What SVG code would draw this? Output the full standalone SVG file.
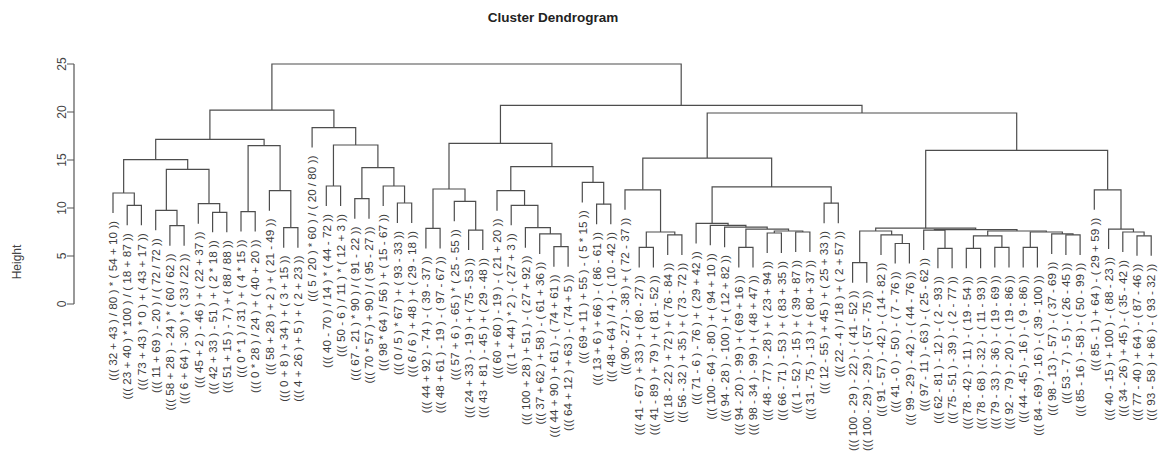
<svg xmlns="http://www.w3.org/2000/svg" width="1169" height="475" viewBox="0 0 1169 475">
<style>
  .bg { fill: #ffffff; }
  .title { font-family: "Liberation Sans", Arial, sans-serif; font-size: 13.5px; font-weight: bold; fill: #222; text-anchor: middle; }
  .axis { stroke: #555; stroke-width: 1.2; fill: none; }
  .tick { font-family: "Liberation Sans", Arial, sans-serif; font-size: 12px; fill: #444; text-anchor: middle; }
  .ylab { font-family: "Liberation Sans", Arial, sans-serif; font-size: 12px; fill: #444; text-anchor: middle; }
  .edge { stroke: #4d4d4d; stroke-width: 1.2; fill: none; }
  .leaf text { font-family: "Liberation Sans", Arial, sans-serif; font-size: 11.7px; fill: #3c3c3c; text-anchor: end; }
</style>
<rect class="bg" x="0" y="0" width="1169" height="475"/>
<text class="title" x="553" y="22">Cluster Dendrogram</text>

<!-- y axis (Height) -->
<g id="axis">
  <path class="axis" d="M74 64 V304 M67 64 H74 M67 112 H74 M67 160 H74 M67 208 H74 M67 256 H74 M67 304 H74"/>
  <text class="tick" transform="translate(66,64) rotate(-90)">25</text>
  <text class="tick" transform="translate(66,112) rotate(-90)">20</text>
  <text class="tick" transform="translate(66,160) rotate(-90)">15</text>
  <text class="tick" transform="translate(66,208) rotate(-90)">10</text>
  <text class="tick" transform="translate(66,256) rotate(-90)">5</text>
  <text class="tick" transform="translate(66,304) rotate(-90)">0</text>
  <text class="ylab" transform="translate(21,262) rotate(-90)">Height</text>
</g>

<!-- merge brackets -->
<g id="connectors" class="edge">
  <path d="M127.2 225.3 V205.3 H141.4 V225.3"/>
  <path d="M113 213 V193 H134.3 V205.3"/>
  <path d="M169.9 245.7 V225.7 H184.1 V245.7"/>
  <path d="M155.7 230.3 V210.3 H177 V225.7"/>
  <path d="M212.6 232.3 V212.3 H226.8 V232.3"/>
  <path d="M198.3 223.7 V203.7 H219.7 V212.3"/>
  <path d="M166.35 210.3 V169.3 H209 V203.7"/>
  <path d="M123.65 193 V159.7 H187.7 V169.3"/>
  <path d="M241 231.6 V211.6 H255.2 V231.6"/>
  <path d="M283.7 247.7 V227.7 H297.9 V247.7"/>
  <path d="M269.4 210.7 V190.7 H290.8 V227.7"/>
  <path d="M248.1 211.6 V145.7 H280.1 V190.7"/>
  <path d="M155.7 159.7 V139.4 H264.1 V145.7"/>
  <path d="M326.3 206 V186 H340.6 V206"/>
  <path d="M354.8 218.7 V198.7 H369 V218.7"/>
  <path d="M397.4 223 V203 H411.7 V223"/>
  <path d="M383.2 206 V186 H404.55 V203"/>
  <path d="M361.9 198.7 V167.7 H393.9 V186"/>
  <path d="M333.45 186 V145 H377.9 V167.7"/>
  <path d="M312.1 147.6 V127.6 H355.7 V145"/>
  <path d="M209.9 139.4 V110.1 H333.9 V127.6"/>

  <path d="M425.9 248.4 V228.4 H440.1 V248.4"/>
  <path d="M468.6 250.1 V230.1 H482.8 V250.1"/>
  <path d="M454.3 221.3 V201.3 H475.7 V230.1"/>
  <path d="M433 228.4 V189 H465 V201.3"/>
  <path d="M553.9 266.7 V246.7 H568.1 V266.7"/>
  <path d="M539.7 253.9 V233.9 H561 V246.7"/>
  <path d="M525.4 247.7 V227.7 H550.35 V233.9"/>
  <path d="M511.2 225.3 V205.3 H537.9 V227.7"/>
  <path d="M497 210.7 V190.7 H524.55 V205.3"/>
  <path d="M596.6 224.2 V204.2 H610.8 V224.2"/>
  <path d="M582.3 202.4 V182.4 H603.7 V204.2"/>
  <path d="M510.8 190.7 V166.7 H593 V182.4"/>
  <path d="M449 189 V143.3 H551.9 V166.7"/>

  <path d="M639.2 267.4 V247.4 H653.4 V267.4"/>
  <path d="M667.7 254.9 V234.9 H681.9 V254.9"/>
  <path d="M646.3 247.4 V232 H674.8 V234.9"/>
  <path d="M625 209.8 V189.8 H660.55 V232"/>
  <path d="M738.8 267.4 V247.4 H753 V267.4"/>
  <path d="M767.2 253 V233 H781.4 V253"/>
  <path d="M795.7 252 V232 H809.9 V252"/>
  <path d="M774.3 233 V231 H802.8 V232"/>
  <path d="M745.9 247.4 V229.1 H788.55 V231"/>
  <path d="M724.6 247.2 V227.2 H767.2 V229.1"/>
  <path d="M710.3 245.3 V225.3 H745.9 V227.2"/>
  <path d="M696.1 243.4 V223.4 H728.1 V225.3"/>
  <path d="M824.1 223.2 V203.2 H838.3 V223.2"/>
  <path d="M712.1 223.4 V186.9 H831.2 V203.2"/>
  <path d="M642.8 189.8 V158.1 H771.65 V186.9"/>

  <path d="M852.6 282.7 V262.7 H866.8 V282.7"/>
  <path d="M895.2 263.5 V243.5 H909.4 V263.5"/>
  <path d="M881 254.9 V234.9 H902.3 V243.5"/>
  <path d="M859.7 262.7 V231 H891.65 V234.9"/>
  <path d="M937.9 268.3 V248.3 H952.1 V268.3"/>
  <path d="M923.7 250.1 V230.1 H945 V248.3"/>
  <path d="M966.3 268.3 V248.3 H980.6 V268.3"/>
  <path d="M994.8 267.4 V247.4 H1009 V267.4"/>
  <path d="M973.45 248.3 V235.8 H1001.9 V247.4"/>
  <path d="M1023.2 267.4 V247.4 H1037.4 V267.4"/>
  <path d="M1065.9 254.9 V234.9 H1080.1 V254.9"/>
  <path d="M1051.7 253.9 V233.9 H1073 V234.9"/>
  <path d="M1030.3 247.4 V232 H1062.35 V233.9"/>
  <path d="M987.7 235.8 V231 H1046.3 V232"/>
  <path d="M934.35 230.1 V229.6 H1017 V231"/>
  <path d="M875.7 231 V228.2 H975.7 V229.6"/>
  <path d="M1137 255.8 V235.8 H1151.2 V255.8"/>
  <path d="M1122.8 252 V232 H1144.1 V235.8"/>
  <path d="M1108.6 249.1 V229.1 H1133.45 V232"/>
  <path d="M1094.3 209.8 V189.8 H1121 V229.1"/>
  <path d="M925.7 228.2 V150.4 H1107.65 V189.8"/>
  <path d="M707.2 158.1 V113 H1016.7 V150.4"/>
  <path d="M500.45 143.3 V105.3 H862 V113"/>
  <path d="M271.9 110.1 V64 H681.2 V105.3"/>
</g>

<!-- leaves -->
<g id="leaf-01" class="leaf"><text transform="translate(117.2,221) rotate(-90)">((( 32 + 43 ) / 80 ) * ( 54 + 10 ))</text></g>
<g id="leaf-02" class="leaf"><text transform="translate(131.4,233.3) rotate(-90)">((( 23 + 40 ) * 100 ) / ( 18 + 87 ))</text></g>
<g id="leaf-03" class="leaf"><text transform="translate(145.6,233.3) rotate(-90)">((( 73 + 43 ) * 0 ) + ( 43 + 17 ))</text></g>
<g id="leaf-04" class="leaf"><text transform="translate(159.9,238.3) rotate(-90)">((( 11 + 69 ) - 20 ) / ( 72 / 72 ))</text></g>
<g id="leaf-05" class="leaf"><text transform="translate(174.1,253.7) rotate(-90)">((( 58 + 28 ) - 24 ) * ( 60 / 62 ))</text></g>
<g id="leaf-06" class="leaf"><text transform="translate(188.3,253.7) rotate(-90)">((( 6 + 64 ) - 30 ) * ( 33 / 22 ))</text></g>
<g id="leaf-07" class="leaf"><text transform="translate(202.5,231.7) rotate(-90)">((( 45 + 2 ) - 46 ) + ( 22 + 37 ))</text></g>
<g id="leaf-08" class="leaf"><text transform="translate(216.8,240.3) rotate(-90)">((( 42 + 33 ) - 51 ) + ( 2 * 18 ))</text></g>
<g id="leaf-09" class="leaf"><text transform="translate(231,240.3) rotate(-90)">((( 51 + 15 ) - 7 ) + ( 88 / 88 ))</text></g>
<g id="leaf-10" class="leaf"><text transform="translate(245.2,239.6) rotate(-90)">((( 0 * 1 ) / 31 ) + ( 4 * 15 ))</text></g>
<g id="leaf-11" class="leaf"><text transform="translate(259.4,239.6) rotate(-90)">((( 0 * 28 ) / 24 ) + ( 40 + 20 ))</text></g>
<g id="leaf-12" class="leaf"><text transform="translate(273.6,218.7) rotate(-90)">((( 58 + 28 ) + 2 ) + ( 21 - 49 ))</text></g>
<g id="leaf-13" class="leaf"><text transform="translate(287.9,255.7) rotate(-90)">((( 0 + 8 ) + 34 ) + ( 3 + 15 ))</text></g>
<g id="leaf-14" class="leaf"><text transform="translate(302.1,255.7) rotate(-90)">((( 4 + 26 ) + 5 ) + ( 2 + 23 ))</text></g>
<g id="leaf-15" class="leaf"><text transform="translate(316.3,155.6) rotate(-90)">((( 5 / 20 ) * 60 ) / ( 20 / 80 ))</text></g>
<g id="leaf-16" class="leaf"><text transform="translate(330.5,214) rotate(-90)">((( 40 - 70 ) / 14 ) * ( 44 - 72 ))</text></g>
<g id="leaf-17" class="leaf"><text transform="translate(344.8,214) rotate(-90)">((( 50 - 6 ) / 11 ) * ( 12 + 3 ))</text></g>
<g id="leaf-18" class="leaf"><text transform="translate(359,226.7) rotate(-90)">((( 67 - 21 ) * 90 ) / ( 91 - 22 ))</text></g>
<g id="leaf-19" class="leaf"><text transform="translate(373.2,226.7) rotate(-90)">((( 70 * 57 ) + 90 ) / ( 95 - 27 ))</text></g>
<g id="leaf-20" class="leaf"><text transform="translate(387.4,214) rotate(-90)">((( 98 * 64 ) / 56 ) + ( 15 - 67 ))</text></g>
<g id="leaf-21" class="leaf"><text transform="translate(401.6,231) rotate(-90)">((( 0 / 5 ) * 67 ) + ( 93 - 33 ))</text></g>
<g id="leaf-22" class="leaf"><text transform="translate(415.9,231) rotate(-90)">((( 6 / 6 ) + 48 ) + ( 29 - 18 ))</text></g>
<g id="leaf-23" class="leaf"><text transform="translate(430.1,256.4) rotate(-90)">((( 44 + 92 ) - 74 ) - ( 39 - 37 ))</text></g>
<g id="leaf-24" class="leaf"><text transform="translate(444.3,256.4) rotate(-90)">((( 48 + 61 ) - 19 ) - ( 97 - 67 ))</text></g>
<g id="leaf-25" class="leaf"><text transform="translate(458.5,229.3) rotate(-90)">((( 57 + 6 ) - 65 ) * ( 25 - 55 ))</text></g>
<g id="leaf-26" class="leaf"><text transform="translate(472.8,258.1) rotate(-90)">((( 24 + 33 ) - 19 ) + ( 75 - 53 ))</text></g>
<g id="leaf-27" class="leaf"><text transform="translate(487,258.1) rotate(-90)">((( 43 + 81 ) - 45 ) + ( 29 - 48 ))</text></g>
<g id="leaf-28" class="leaf"><text transform="translate(501.2,218.7) rotate(-90)">((( 60 + 60 ) - 19 ) - ( 21 + 20 ))</text></g>
<g id="leaf-29" class="leaf"><text transform="translate(515.4,233.3) rotate(-90)">((( 1 + 44 ) * 2 ) - ( 27 + 3 ))</text></g>
<g id="leaf-30" class="leaf"><text transform="translate(529.6,255.7) rotate(-90)">((( 100 + 28 ) + 51 ) - ( 27 + 92 ))</text></g>
<g id="leaf-31" class="leaf"><text transform="translate(543.9,261.9) rotate(-90)">((( 37 + 62 ) + 58 ) - ( 61 + 36 ))</text></g>
<g id="leaf-32" class="leaf"><text transform="translate(558.1,274.7) rotate(-90)">((( 44 + 90 ) + 61 ) - ( 74 + 61 ))</text></g>
<g id="leaf-33" class="leaf"><text transform="translate(572.3,274.7) rotate(-90)">((( 64 + 12 ) + 63 ) - ( 74 + 5 ))</text></g>
<g id="leaf-34" class="leaf"><text transform="translate(586.5,210.4) rotate(-90)">((( 69 + 11 ) + 55 ) - ( 5 * 15 ))</text></g>
<g id="leaf-35" class="leaf"><text transform="translate(600.8,232.2) rotate(-90)">((( 13 + 6 ) + 66 ) - ( 86 - 61 ))</text></g>
<g id="leaf-36" class="leaf"><text transform="translate(615,232.2) rotate(-90)">((( 48 + 64 ) / 4 ) - ( 10 - 42 ))</text></g>
<g id="leaf-37" class="leaf"><text transform="translate(629.2,217.8) rotate(-90)">((( 90 - 27 ) - 38 ) + ( 72 - 37 ))</text></g>
<g id="leaf-38" class="leaf"><text transform="translate(643.4,275.4) rotate(-90)">((( 41 - 67 ) + 33 ) + ( 80 - 27 ))</text></g>
<g id="leaf-39" class="leaf"><text transform="translate(657.6,275.4) rotate(-90)">((( 41 - 89 ) + 79 ) + ( 81 - 52 ))</text></g>
<g id="leaf-40" class="leaf"><text transform="translate(671.9,262.9) rotate(-90)">((( 18 - 22 ) + 72 ) + ( 76 - 84 ))</text></g>
<g id="leaf-41" class="leaf"><text transform="translate(686.1,262.9) rotate(-90)">((( 56 - 32 ) + 35 ) + ( 73 - 72 ))</text></g>
<g id="leaf-42" class="leaf"><text transform="translate(700.3,251.4) rotate(-90)">((( 71 - 6 ) - 76 ) + ( 29 + 42 ))</text></g>
<g id="leaf-43" class="leaf"><text transform="translate(714.5,253.3) rotate(-90)">((( 100 - 64 ) - 80 ) + ( 94 + 10 ))</text></g>
<g id="leaf-44" class="leaf"><text transform="translate(728.8,255.2) rotate(-90)">((( 94 - 28 ) - 100 ) + ( 12 + 82 ))</text></g>
<g id="leaf-45" class="leaf"><text transform="translate(743,275.4) rotate(-90)">((( 94 - 20 ) - 99 ) + ( 69 + 16 ))</text></g>
<g id="leaf-46" class="leaf"><text transform="translate(757.2,275.4) rotate(-90)">((( 98 - 34 ) - 99 ) + ( 48 + 47 ))</text></g>
<g id="leaf-47" class="leaf"><text transform="translate(771.4,261) rotate(-90)">((( 48 - 77 ) - 28 ) + ( 23 + 94 ))</text></g>
<g id="leaf-48" class="leaf"><text transform="translate(785.6,261) rotate(-90)">((( 66 - 71 ) - 53 ) + ( 83 + 35 ))</text></g>
<g id="leaf-49" class="leaf"><text transform="translate(799.9,260) rotate(-90)">((( 1 - 52 ) - 15 ) + ( 39 + 87 ))</text></g>
<g id="leaf-50" class="leaf"><text transform="translate(814.1,260) rotate(-90)">((( 31 - 75 ) - 13 ) + ( 80 + 37 ))</text></g>
<g id="leaf-51" class="leaf"><text transform="translate(828.3,231.2) rotate(-90)">((( 12 - 55 ) + 45 ) + ( 25 + 33 ))</text></g>
<g id="leaf-52" class="leaf"><text transform="translate(842.5,231.2) rotate(-90)">((( 22 - 4 ) / 18 ) + ( 2 + 57 ))</text></g>
<g id="leaf-53" class="leaf"><text transform="translate(856.8,290.7) rotate(-90)">((( 100 - 29 ) - 22 ) - ( 41 - 52 ))</text></g>
<g id="leaf-54" class="leaf"><text transform="translate(871,290.7) rotate(-90)">((( 100 - 29 ) - 29 ) - ( 57 - 75 ))</text></g>
<g id="leaf-55" class="leaf"><text transform="translate(885.2,262.9) rotate(-90)">((( 91 - 57 ) - 42 ) - ( 14 - 82 ))</text></g>
<g id="leaf-56" class="leaf"><text transform="translate(899.4,271.5) rotate(-90)">((( 41 - 0 ) - 50 ) - ( 7 - 76 ))</text></g>
<g id="leaf-57" class="leaf"><text transform="translate(913.6,271.5) rotate(-90)">((( 99 - 29 ) - 42 ) - ( 44 - 76 ))</text></g>
<g id="leaf-58" class="leaf"><text transform="translate(927.9,258.1) rotate(-90)">((( 97 - 11 ) - 63 ) - ( 25 - 62 ))</text></g>
<g id="leaf-59" class="leaf"><text transform="translate(942.1,276.3) rotate(-90)">((( 62 - 81 ) - 12 ) - ( 2 - 93 ))</text></g>
<g id="leaf-60" class="leaf"><text transform="translate(956.3,276.3) rotate(-90)">((( 75 - 51 ) - 39 ) - ( 2 - 77 ))</text></g>
<g id="leaf-61" class="leaf"><text transform="translate(970.5,276.3) rotate(-90)">((( 78 - 42 ) - 11 ) - ( 19 - 54 ))</text></g>
<g id="leaf-62" class="leaf"><text transform="translate(984.8,276.3) rotate(-90)">((( 78 - 68 ) - 32 ) - ( 11 - 93 ))</text></g>
<g id="leaf-63" class="leaf"><text transform="translate(999,275.4) rotate(-90)">((( 79 - 33 ) - 36 ) - ( 19 - 69 ))</text></g>
<g id="leaf-64" class="leaf"><text transform="translate(1013.2,275.4) rotate(-90)">((( 92 - 79 ) - 20 ) - ( 19 - 86 ))</text></g>
<g id="leaf-65" class="leaf"><text transform="translate(1027.4,275.4) rotate(-90)">((( 44 - 45 ) - 16 ) - ( 9 - 86 ))</text></g>
<g id="leaf-66" class="leaf"><text transform="translate(1041.6,275.4) rotate(-90)">((( 84 - 69 ) - 16 ) - ( 39 - 100 ))</text></g>
<g id="leaf-67" class="leaf"><text transform="translate(1055.9,261.9) rotate(-90)">((( 98 - 13 ) - 57 ) - ( 37 - 69 ))</text></g>
<g id="leaf-68" class="leaf"><text transform="translate(1070.1,262.9) rotate(-90)">((( 53 - 7 ) - 5 ) - ( 26 - 45 ))</text></g>
<g id="leaf-69" class="leaf"><text transform="translate(1084.3,262.9) rotate(-90)">((( 85 - 16 ) - 58 ) - ( 50 - 99 ))</text></g>
<g id="leaf-70" class="leaf"><text transform="translate(1098.5,217.8) rotate(-90)">((( 85 - 1 ) + 64 ) - ( 29 + 59 ))</text></g>
<g id="leaf-71" class="leaf"><text transform="translate(1112.8,257.1) rotate(-90)">((( 40 - 15 ) + 100 ) - ( 88 - 23 ))</text></g>
<g id="leaf-72" class="leaf"><text transform="translate(1127,260) rotate(-90)">((( 34 - 26 ) + 45 ) - ( 35 - 42 ))</text></g>
<g id="leaf-73" class="leaf"><text transform="translate(1141.2,263.8) rotate(-90)">((( 77 - 40 ) + 64 ) - ( 87 - 46 ))</text></g>
<g id="leaf-74" class="leaf"><text transform="translate(1155.4,263.8) rotate(-90)">((( 93 - 58 ) + 86 ) - ( 93 - 32 ))</text></g>
</svg>
